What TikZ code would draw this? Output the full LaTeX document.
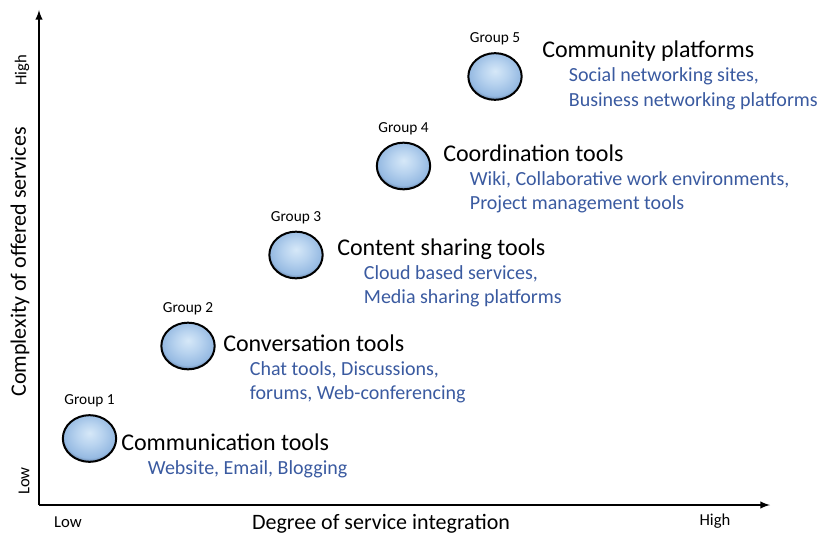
\documentclass[tikz,border=0pt]{standalone}
\usepackage{fontspec}
\setmainfont{Carlito}
\usetikzlibrary{shapes,arrows}
\usetikzlibrary{positioning}
\definecolor{itemblue}{RGB}{58,90,160}
\definecolor{ballhi}{RGB}{214,232,248}
\definecolor{ballmid}{RGB}{184,211,239}
\definecolor{balledge}{RGB}{150,186,226}
\definecolor{balldark}{RGB}{80,105,140}
\pgfdeclareradialshading{groupball}{\pgfpoint{0bp}{6bp}}{color(0bp)=(ballhi); color(12bp)=(ballmid); color(24bp)=(balledge); color(29bp)=(balldark); color(50bp)=(balldark)}
\newcommand{\examples}[1]{\begin{tabular}[t]{@{}l@{}}#1\end{tabular}}
\tikzstyle{ball} = [ellipse, draw=black, line width=1.5pt, minimum width=40pt, minimum height=35pt, shading=groupball]
\tikzstyle{tag} = [font=\fontsize{11.5}{13}\selectfont, inner sep=0pt]
\tikzstyle{head} = [font=\fontsize{18}{21}\selectfont, anchor=base west, inner sep=0pt]
\tikzstyle{items} = [font=\fontsize{15}{18}\selectfont, text=itemblue, inner sep=0pt]
\tikzstyle{axis} = [font=\fontsize{16.5}{19}\selectfont, inner sep=0pt]
\tikzstyle{level} = [font=\fontsize{12.5}{14}\selectfont, inner sep=0pt]

\begin{document}
\begin{tikzpicture}[x=0.75pt, y=-0.75pt, >=latex]
   \useasboundingbox (0,0) rectangle (824,535);
   % Axes
   \coordinate (o) at (39,505);
   \coordinate (ytop) at (39,10);
   \coordinate (xend) at (770,505);
   \draw[->, line width=1.5pt] (o) -- (ytop);
   \draw[->, line width=1.5pt] (o) -- (xend);
   \node [axis, rotate=90] (ylab) at (20,262) {Complexity of offered services};
   \node [level, rotate=90] (yhigh) at (22,70) {High};
   \node [level, rotate=90] (ylow) at (24,481) {Low};
   \node [axis] (xlab) at (381,524) {Degree of service integration};
   \node [level] (xlow) at (68,522) {Low};
   \node [level] (xhigh) at (715,521) {High};
   % Place groups
   \node [ball] (g1) at (89.5,438.5) {};
   \node [ball] (g2) at (188,346) {};
   \node [ball] (g3) at (296,255) {};
   \node [ball] (g4) at (403.5,166) {};
   \node [ball] (g5) at (495,76.5) {};
   \node [tag, above = 5pt of g1] (tag1) {Group 1};
   \node [tag, above = 5pt of g2] (tag2) {Group 2};
   \node [tag, above = 5pt of g3] (tag3) {Group 3};
   \node [tag, above = 5pt of g4] (tag4) {Group 4};
   \node [tag, above = 5pt of g5] (tag5) {Group 5};
   % Headings and examples
   \node [head] (t1) at (121,450) {Communication tools};
   \node [head] (t2) at (223,351) {Conversation tools};
   \node [head] (t3) at (337,255) {Content sharing tools};
   \node [head] (t4) at (443,161) {Coordination tools};
   \node [head] (t5) at (542,58) {Community platforms};
   \node [items, below right = 18pt and 20pt of t1.base west, anchor=base west] (i1) {\examples{Website, Email, Blogging}};
   \node [items, below right = 18pt and 20pt of t2.base west, anchor=base west] (i2) {\examples{Chat tools, Discussions,\\forums, Web-conferencing}};
   \node [items, below right = 18pt and 20pt of t3.base west, anchor=base west] (i3) {\examples{Cloud based services,\\Media sharing platforms}};
   \node [items, below right = 18pt and 20pt of t4.base west, anchor=base west] (i4) {\examples{Wiki, Collaborative work environments,\\Project management tools}};
   \node [items, below right = 18pt and 20pt of t5.base west, anchor=base west] (i5) {\examples{Social networking sites,\\Business networking platforms}};
\end{tikzpicture}
\end{document}
